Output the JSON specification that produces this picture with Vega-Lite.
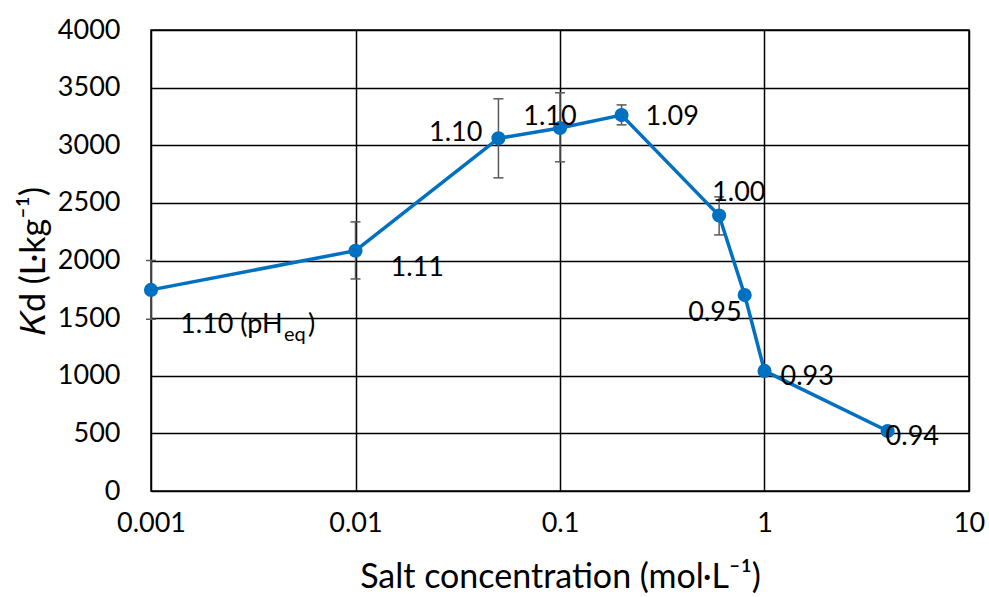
{
  "$schema": "https://vega.github.io/schema/vega-lite/v6.json",
  "width": 818,
  "height": 461,
  "autosize": {"type": "none"},
  "padding": {"left": 151, "top": 30, "right": 20, "bottom": 106},
  "config": {
    "font": "Lato",
    "view": {"stroke": "black", "strokeWidth": 1.5},
    "axis": {
      "grid": true, "gridColor": "black", "gridWidth": 1.5, "gridOpacity": 1,
      "domain": false, "ticks": false, "labelFlush": false,
      "labelFontSize": 27, "labelColor": "black", "labelFont": "Lato",
      "titleFontSize": 34, "titleFontWeight": "normal", "titleColor": "black", "titleFont": "Lato"
    }
  },
  "data": {"values": [
    {"c": 0.001, "kd": 1745, "lo": 1490, "hi": 2000, "lbl": "1.10 (pH", "sub": "eq", "tail": ")"},
    {"c": 0.01, "kd": 2085, "lo": 1840, "hi": 2335, "lbl": "1.11"},
    {"c": 0.05, "kd": 3060, "lo": 2717, "hi": 3403, "lbl": "1.10"},
    {"c": 0.1, "kd": 3150, "lo": 2856, "hi": 3455, "lbl": "1.10"},
    {"c": 0.2, "kd": 3262, "lo": 3177, "hi": 3350, "lbl": "1.09"},
    {"c": 0.6, "kd": 2390, "lo": 2222, "hi": 2552, "lbl": "1.00"},
    {"c": 0.8, "kd": 1700, "lbl": "0.95"},
    {"c": 1, "kd": 1042, "lbl": "0.93"},
    {"c": 4, "kd": 521, "lbl": "0.94"}
  ]},
  "encoding": {
    "x": {"field": "c", "type": "quantitative",
      "scale": {"type": "log", "domain": [0.001, 10], "nice": false},
      "axis": {"values": [0.001, 0.01, 0.1, 1, 10], "format": "~g", "labelPadding": 19, "titlePadding": 24,
        "title": "Salt concentration (mol·L⁻¹)"}},
    "y": {"field": "kd", "type": "quantitative",
      "scale": {"domain": [0, 4000], "nice": false},
      "axis": {"values": [0, 500, 1000, 1500, 2000, 2500, 3000, 3500, 4000], "format": "d", "labelPadding": 31, "titlePadding": 6,
        "title": "𝐾d (L·kg⁻¹)"}}
  },
  "layer": [
    {"transform": [{"filter": "isValid(datum.lo)"}],
     "mark": {"type": "rule", "color": "#595959", "strokeWidth": 1.5},
     "encoding": {"y": {"field": "lo", "type": "quantitative"}, "y2": {"field": "hi"}}},
    {"transform": [{"filter": "isValid(datum.lo)"}],
     "mark": {"type": "tick", "orient": "horizontal", "color": "#595959", "size": 10, "thickness": 1.5, "opacity": 1},
     "encoding": {"y": {"field": "lo", "type": "quantitative"}}},
    {"transform": [{"filter": "isValid(datum.hi)"}],
     "mark": {"type": "tick", "orient": "horizontal", "color": "#595959", "size": 10, "thickness": 1.5, "opacity": 1},
     "encoding": {"y": {"field": "hi", "type": "quantitative"}}},
    {"mark": {"type": "line", "color": "#0070C0", "strokeWidth": 3.5}},
    {"mark": {"type": "point", "filled": true, "color": "#0070C0", "size": 200, "opacity": 1}},
    {"transform": [{"filter": "datum.c == 0.001"}],
     "mark": {"type": "text", "align": "left", "baseline": "middle", "dx": 29, "dy": 35, "fontSize": 27, "color": "black"},
     "encoding": {"text": {"field": "lbl"}}},
    {"transform": [{"filter": "datum.c == 0.001"}],
     "mark": {"type": "text", "align": "left", "baseline": "middle", "dx": 133, "dy": 45, "fontSize": 20, "color": "black"},
     "encoding": {"text": {"field": "sub"}}},
    {"transform": [{"filter": "datum.c == 0.001"}],
     "mark": {"type": "text", "align": "left", "baseline": "middle", "dx": 157, "dy": 35, "fontSize": 27, "color": "black"},
     "encoding": {"text": {"field": "tail"}}},
    {"transform": [{"filter": "datum.c == 0.01"}],
     "mark": {"type": "text", "align": "left", "baseline": "middle", "dx": 35, "dy": 17, "fontSize": 27, "color": "black"},
     "encoding": {"text": {"field": "lbl"}}},
    {"transform": [{"filter": "datum.c == 0.05"}],
     "mark": {"type": "text", "align": "right", "baseline": "middle", "dx": -16, "dy": -5, "fontSize": 27, "color": "black"},
     "encoding": {"text": {"field": "lbl"}}},
    {"transform": [{"filter": "datum.c == 0.1"}],
     "mark": {"type": "text", "align": "center", "baseline": "middle", "dx": -10, "dy": -11, "fontSize": 27, "color": "black"},
     "encoding": {"text": {"field": "lbl"}}},
    {"transform": [{"filter": "datum.c == 0.2"}],
     "mark": {"type": "text", "align": "left", "baseline": "middle", "dx": 24, "dy": 2, "fontSize": 27, "color": "black"},
     "encoding": {"text": {"field": "lbl"}}},
    {"transform": [{"filter": "datum.c == 0.6"}],
     "mark": {"type": "text", "align": "left", "baseline": "middle", "dx": -7, "dy": -23, "fontSize": 27, "color": "black"},
     "encoding": {"text": {"field": "lbl"}}},
    {"transform": [{"filter": "datum.c == 0.8"}],
     "mark": {"type": "text", "align": "right", "baseline": "middle", "dx": -3, "dy": 18, "fontSize": 27, "color": "black"},
     "encoding": {"text": {"field": "lbl"}}},
    {"transform": [{"filter": "datum.c == 1"}],
     "mark": {"type": "text", "align": "left", "baseline": "middle", "dx": 16, "dy": 6, "fontSize": 27, "color": "black"},
     "encoding": {"text": {"field": "lbl"}}},
    {"transform": [{"filter": "datum.c == 4"}],
     "mark": {"type": "text", "align": "left", "baseline": "middle", "dx": -2, "dy": 6, "fontSize": 27, "color": "black"},
     "encoding": {"text": {"field": "lbl"}}}
  ]
}
